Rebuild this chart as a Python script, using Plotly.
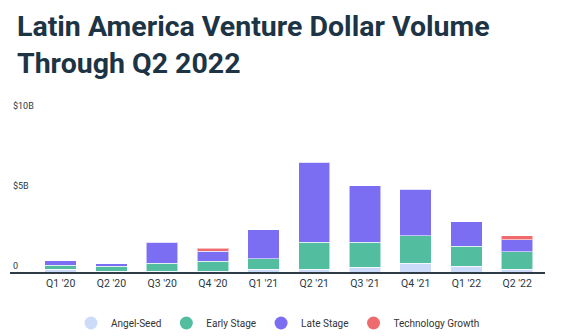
import plotly.graph_objects as go

quarters = ["Q1 '20", "Q2 '20", "Q3 '20", "Q4 '20", "Q1 '21",
            "Q2 '21", "Q3 '21", "Q4 '21", "Q1 '22", "Q2 '22"]
angel_seed = [0.17, 0.05, 0.06, 0.06, 0.17, 0.17, 0.29, 0.55, 0.36, 0.16]
early_stage = [0.25, 0.31, 0.48, 0.62, 0.67, 1.69, 1.56, 1.73, 1.25, 1.10]
late_stage = [0.27, 0.17, 1.33, 0.62, 1.79, 5.00, 3.54, 2.88, 1.54, 0.77]
tech_growth = [0, 0, 0, 0.19, 0, 0, 0, 0, 0, 0.23]

series_names = ["Angel-Seed", "Early Stage", "Late Stage", "Technology Growth"]
series_vals = [angel_seed, early_stage, late_stage, tech_growth]
colors = ["#cddbfb", "#52bd9f", "#7b6ef3", "#ee6b6d"]

y_ticks = [0, 5, 10]
y_labels = ["0", "$5B", "$10B"]

title_text = "Latin America Venture Dollar Volume<br>Through Q2 2022"

fig = go.Figure()
for name, vals, c in zip(series_names, series_vals, colors):
    fig.add_trace(go.Bar(
        x=quarters, y=vals, name=name, marker_color=c,
        marker_line=dict(color="rgba(255,255,255,0.55)", width=1),
        showlegend=False,
    ))
for name, c in zip(series_names, colors):
    fig.add_trace(go.Scatter(
        x=[None], y=[None], mode="markers", name=name,
        marker=dict(color=c, size=13, symbol="circle"),
    ))

fig.update_layout(
    width=572, height=336,
    barmode="stack", bargap=0.38,
    paper_bgcolor="white", plot_bgcolor="white",
    margin=dict(l=10, r=27, t=96, b=64),
    font=dict(family="Roboto", color="#2a3844"),
    title=dict(
        text=title_text, xref="container", yref="container",
        x=17/572, xanchor="left", y=1 - 36/336, yanchor="bottom",
        font=dict(family="Roboto", size=28.5, color="#1d3445", weight=700),
    ),
    legend=dict(
        orientation="h", x=278/572, xanchor="center", xref="container",
        y=(336 - 323) / 336, yanchor="middle", yref="container",
        font=dict(size=10, color="#333"), itemwidth=30, traceorder="normal",
    ),
    xaxis=dict(
        type="category", range=[-1.0, 9.55],
        showline=True, linecolor="#2e3c47", linewidth=2,
        ticks="", tickfont=dict(size=10.5, color="#2a3844"),
        showgrid=False, fixedrange=True,
    ),
    yaxis=dict(
        range=[0, 11], tickvals=y_ticks, ticktext=y_labels,
        ticklabelposition="inside top", showgrid=False, zeroline=False,
        tickfont=dict(size=9, color="#2a3844"), ticks="",
    ),
)

fig.write_html("out.html")
